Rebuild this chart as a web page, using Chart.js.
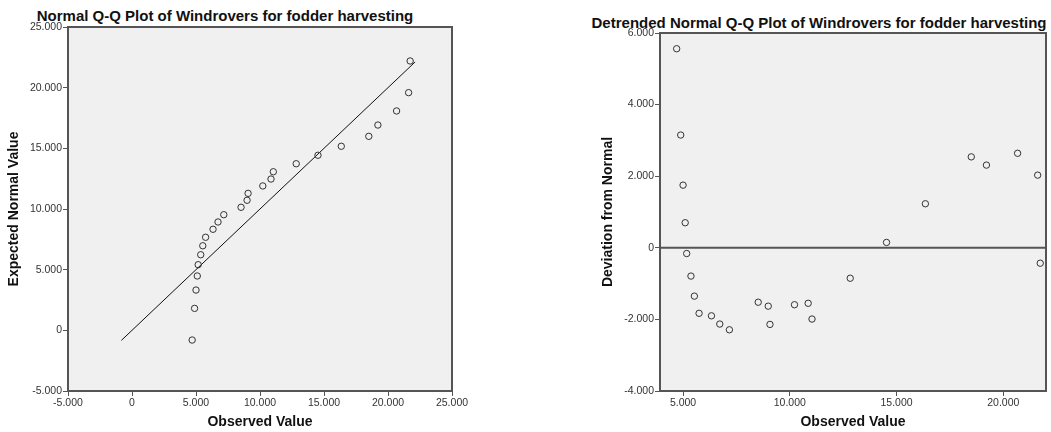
<!DOCTYPE html>
<html>
<head>
<meta charset="utf-8">
<script src="https://cdn.jsdelivr.net/npm/chart.js@4.4.0/dist/chart.umd.min.js"></script>
<style>
  body { margin: 0; background: #fff; width: 1051px; height: 432px; overflow: hidden; position: relative; font-family: "Liberation Sans", Arial, sans-serif; }
  canvas { position: absolute; top: 0; }
  .title { position: absolute; font-weight: bold; font-size: 15px; color: #111; white-space: nowrap; transform: translate(-50%, -50%); }
</style>
</head>
<body>
<div class="title" style="left:225px; top:15px;">Normal Q-Q Plot of Windrovers for fodder harvesting</div>
<div class="title" style="left:819px; top:22px;">Detrended Normal Q-Q Plot of Windrovers for fodder harvesting</div>
<canvas id="qqChart" width="470" height="432" style="left:0;"></canvas>
<canvas id="detrendChart" width="471" height="432" style="left:580px;"></canvas>
<script>
// values
const observed = [4.70, 4.89, 5.00, 5.10, 5.17, 5.37, 5.53, 5.75, 6.33, 6.72, 7.17, 8.52, 8.99,
  9.07, 10.22, 10.86, 11.04, 12.83, 14.53, 16.35, 18.50, 19.21, 20.67, 21.61, 21.73];
const expected = [-0.80, 1.81, 3.32, 4.48, 5.41, 6.23, 6.97, 7.67, 8.33, 8.93, 9.53, 10.14, 10.72,
  11.29, 11.90, 12.47, 13.07, 13.73, 14.43, 15.17, 15.99, 16.92, 18.08, 19.59, 22.20];
const deviation = [5.56, 3.15, 1.75, 0.70, -0.16, -0.79, -1.35, -1.83, -1.90, -2.13, -2.29, -1.52, -1.63,
  -2.14, -1.59, -1.55, -1.99, -0.85, 0.15, 1.23, 2.54, 2.31, 2.64, 2.03, -0.43];

// reference line y = x, start and end
const qqLine = [-0.83, 22.12];
const qqTicks = [-5, 0, 5, 10, 15, 20, 25];
const detrendXTicks = [5, 10, 15, 20];
const detrendYTicks = [-4, -2, 0, 2, 4, 6];
const detrendXRange = [3.92, 22.0];

const FONT = "'Liberation Sans', Arial, sans-serif";
const AXIS_COL = "#555";

function fmt(v) {
  return v === 0 ? "0" : v.toFixed(3);
}

// grey panel + dark frame like SPSS
const panelPlugin = {
  id: "panel",
  beforeDraw(chart) {
    const { ctx, chartArea: a } = chart;
    ctx.save();
    ctx.fillStyle = "#f0f0f0";
    ctx.fillRect(a.left, a.top, a.width, a.height);
    ctx.restore();
  },
  afterDraw(chart) {
    const { ctx, chartArea: a } = chart;
    ctx.save();
    ctx.strokeStyle = AXIS_COL;
    ctx.lineWidth = 2;
    ctx.strokeRect(a.left, a.top, a.width, a.height);
    ctx.restore();
  },
};

function axis(opts) {
  return {
    type: "linear",
    position: opts.position,
    min: opts.min,
    max: opts.max,
    afterBuildTicks: (scale) => {
      scale.ticks = opts.ticks.map((v) => ({ value: v }));
    },
    afterFit: (scale) => {
      if (opts.width) scale.width = opts.width;
      if (opts.height) scale.height = opts.height;
    },
    grid: {
      drawOnChartArea: false,
      drawTicks: true,
      tickLength: 5,
      tickColor: AXIS_COL,
      tickWidth: 1,
    },
    border: { display: false },
    ticks: {
      callback: (v) => fmt(v),
      color: "#333",
      padding: 1,
      maxRotation: 0,
      autoSkip: false,
      font: { family: FONT, size: 10.5 },
    },
    title: {
      display: true,
      text: opts.title,
      color: "#111",
      padding: 0,
      font: { family: FONT, size: 14, weight: "bold" },
    },
  };
}

const pointStyle = {
  pointRadius: 3.2,
  pointBorderWidth: 1,
  pointBorderColor: "#333",
  pointBackgroundColor: "rgba(0,0,0,0)",
  showLine: false,
};

new Chart(document.getElementById("qqChart"), {
  type: "scatter",
  data: {
    datasets: [
      {
        data: observed.map((x, i) => ({ x: x, y: expected[i] })),
        ...pointStyle,
      },
      {
        data: qqLine.map((v) => ({ x: v, y: v })),
        showLine: true,
        borderColor: "#111",
        borderWidth: 1,
        pointRadius: 0,
      },
    ],
  },
  options: {
    responsive: false,
    animation: false,
    events: [],
    layout: { padding: { left: 6, right: 18, top: 27, bottom: 1 } },
    plugins: { legend: { display: false }, tooltip: { enabled: false } },
    scales: {
      x: axis({ position: "bottom", min: -5, max: 25, ticks: qqTicks, height: 40, title: "Observed Value" }),
      y: axis({ position: "left", min: -5, max: 25, ticks: qqTicks, width: 62, title: "Expected Normal Value" }),
    },
  },
  plugins: [panelPlugin],
});

new Chart(document.getElementById("detrendChart"), {
  type: "scatter",
  data: {
    datasets: [
      {
        data: observed.map((x, i) => ({ x: x, y: deviation[i] })),
        ...pointStyle,
      },
      {
        data: detrendXRange.map((v) => ({ x: v, y: 0 })),
        showLine: true,
        borderColor: AXIS_COL,
        borderWidth: 2,
        pointRadius: 0,
      },
    ],
  },
  options: {
    responsive: false,
    animation: false,
    events: [],
    layout: { padding: { left: 20, right: 4, top: 33, bottom: 1 } },
    plugins: { legend: { display: false }, tooltip: { enabled: false } },
    scales: {
      x: axis({ position: "bottom", min: detrendXRange[0], max: detrendXRange[1], ticks: detrendXTicks, height: 40, title: "Observed Value" }),
      y: axis({ position: "left", min: -4, max: 6, ticks: detrendYTicks, width: 60, title: "Deviation from Normal" }),
    },
  },
  plugins: [panelPlugin],
});
</script>
</body>
</html>
